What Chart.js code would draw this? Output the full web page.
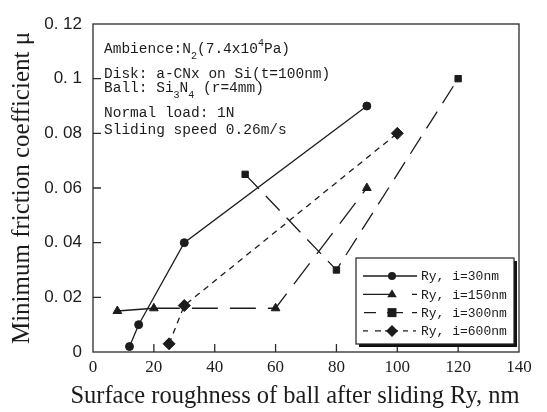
<!DOCTYPE html>
<html>
<head>
<meta charset="utf-8">
<script src="https://cdn.jsdelivr.net/npm/chart.js@4.4.0/dist/chart.umd.min.js"></script>
<style>
    html, body { margin: 0; padding: 0; background: #fff; }
    #wrap { width: 547px; height: 412px; }
</style>
</head>
<body>
<div id="wrap"><canvas id="frictionChart" width="547" height="412"></canvas></div>
<script>
// values
const seriesLabels = ['Ry, i=30nm', 'Ry, i=150nm', 'Ry, i=300nm', 'Ry, i=600nm'];
const ry30X = [12, 15, 30, 90];
const ry30Y = [0.002, 0.010, 0.040, 0.090];
const ry150X = [8, 20, 60, 90];
const ry150Y = [0.015, 0.016, 0.016, 0.060];
const ry300X = [50, 80, 120];
const ry300Y = [0.065, 0.030, 0.100];
const ry600X = [25, 30, 100];
const ry600Y = [0.003, 0.017, 0.080];

const xTicks = [0, 20, 40, 60, 80, 100, 120, 140];
const yTicks = [0, 0.02, 0.04, 0.06, 0.08, 0.1, 0.12];
const yTickLabels = ['0', '0. 02', '0. 04', '0. 06', '0. 08', '0. 1', '0. 12'];

const xTitle = 'Surface roughness of ball after sliding Ry, nm';
const yTitle = 'Minimum friction coefficient \u03bc';

const INK = '#1c1c1c';
const MONO = '"Liberation Mono", "DejaVu Sans Mono", monospace';
const SERIF = '"Liberation Serif", "DejaVu Serif", serif';

function toPoints(xs, ys) {
    return xs.map((x, i) => ({ x: x, y: ys[i] }));
}

// condition block in the upper left, with sub/superscripts
const noteLines = [
    [{ t: 'Ambience:N' }, { t: '2', sub: true }, { t: '(7.4x10' }, { t: '4', sup: true }, { t: 'Pa)' }],
    [{ t: 'Disk: a-CNx on Si(t=100nm)' }],
    [{ t: 'Ball: Si' }, { t: '3', sub: true }, { t: 'N' }, { t: '4', sub: true }, { t: ' (r=4mm)' }],
    [{ t: 'Normal load: 1N' }],
    [{ t: 'Sliding speed 0.26m/s' }]
];
const noteRowY = [49, 74, 88, 113, 130];

// legend sample pieces (relative to sample start)
const legendSegs = [
    [[0, 54]],
    [[0, 29], [49, 54]],
    [[1, 13], [24, 40], [49, 54]],
    [[0, 5], [12, 18], [22, 35], [40, 45], [50, 53]]
];

function drawMarker(ctx, style, r, x, y) {
    ctx.beginPath();
    if (style === 'circle') {
        ctx.arc(x, y, r, 0, Math.PI * 2);
    } else if (style === 'triangle') {
        ctx.moveTo(x, y - r);
        ctx.lineTo(x + r * 0.95, y + r * 0.6);
        ctx.lineTo(x - r * 0.95, y + r * 0.6);
        ctx.closePath();
    } else if (style === 'rect') {
        ctx.rect(x - r, y - r, r * 2, r * 2);
    } else {
        ctx.moveTo(x, y - r);
        ctx.lineTo(x + r, y);
        ctx.lineTo(x, y + r);
        ctx.lineTo(x - r, y);
        ctx.closePath();
    }
    ctx.fill();
}

const decorPlugin = {
    id: 'decor',
    afterDraw(chart) {
        const ctx = chart.ctx;
        const area = chart.chartArea;
        const xs = chart.scales.x;
        const ys = chart.scales.y;
        ctx.save();

        // frame
        ctx.strokeStyle = '#2a2a2a';
        ctx.lineWidth = 1.3;
        ctx.strokeRect(area.left, area.top, area.right - area.left, area.bottom - area.top);

        // inward tick marks
        ctx.beginPath();
        xTicks.slice(1, -1).forEach(v => {
            const px = xs.getPixelForValue(v);
            ctx.moveTo(px, area.bottom);
            ctx.lineTo(px, area.bottom - 8);
        });
        yTicks.slice(1, -1).forEach(v => {
            const py = ys.getPixelForValue(v);
            ctx.moveTo(area.left, py);
            ctx.lineTo(area.left + 8, py);
        });
        ctx.stroke();

        // conditions text
        ctx.fillStyle = INK;
        ctx.textBaseline = 'middle';
        ctx.textAlign = 'left';
        noteLines.forEach((runs, i) => {
            let x = area.left + 11;
            const y = noteRowY[i];
            runs.forEach(run => {
                if (run.sub || run.sup) {
                    ctx.font = '10px ' + MONO;
                    ctx.fillText(run.t, x, y + (run.sub ? 7 : -6));
                    x += ctx.measureText(run.t).width;
                } else {
                    ctx.font = '14.5px ' + MONO;
                    ctx.fillText(run.t, x, y);
                    x += ctx.measureText(run.t).width;
                }
            });
        });

        // legend box with drop shadow
        const lx = 356, ly = 258, lw = 158, lh = 86;
        ctx.fillStyle = '#111';
        ctx.fillRect(lx + 3, ly + 3, lw, lh);
        ctx.fillStyle = '#fff';
        ctx.fillRect(lx, ly, lw, lh);
        ctx.strokeStyle = '#222';
        ctx.lineWidth = 1.2;
        ctx.strokeRect(lx, ly, lw, lh);

        chart.data.datasets.forEach((ds, i) => {
            const rowY = ly + 18 + i * 18.3;
            const sx = lx + 7;
            ctx.strokeStyle = INK;
            ctx.lineWidth = 1.3;
            ctx.beginPath();
            legendSegs[i].forEach(seg => {
                ctx.moveTo(sx + seg[0], rowY);
                ctx.lineTo(sx + seg[1], rowY);
            });
            ctx.stroke();
            ctx.fillStyle = INK;
            drawMarker(ctx, ds.pointStyle, ds.pointRadius, sx + 29, rowY);
            ctx.font = '13px ' + MONO;
            ctx.fillText(ds.label, sx + 58, rowY + 1);
        });

        // x axis title
        ctx.font = '24.5px ' + SERIF;
        ctx.textAlign = 'center';
        ctx.fillStyle = INK;
        ctx.fillText(xTitle, 295, 397);

        ctx.restore();
    }
};

const commonLine = {
    borderColor: INK,
    backgroundColor: INK,
    pointBackgroundColor: INK,
    pointBorderColor: INK,
    borderWidth: 1.3,
    pointBorderWidth: 1,
    fill: false,
    tension: 0
};

new Chart(document.getElementById('frictionChart').getContext('2d'), {
    type: 'line',
    data: {
        datasets: [
            Object.assign({}, commonLine, {
                label: seriesLabels[0],
                data: toPoints(ry30X, ry30Y),
                pointStyle: 'circle',
                pointRadius: 4
            }),
            Object.assign({}, commonLine, {
                label: seriesLabels[1],
                data: toPoints(ry150X, ry150Y),
                pointStyle: 'triangle',
                pointRadius: 5,
                segment: {
                    borderDash: c => c.p0DataIndex === 0 ? [] : [26, 12]
                }
            }),
            Object.assign({}, commonLine, {
                label: seriesLabels[2],
                data: toPoints(ry300X, ry300Y),
                pointStyle: 'rect',
                pointRadius: 4.5,
                borderDash: [20, 10]
            }),
            Object.assign({}, commonLine, {
                label: seriesLabels[3],
                data: toPoints(ry600X, ry600Y),
                pointStyle: 'rectRot',
                pointRadius: 6,
                borderDash: [6, 5]
            })
        ]
    },
    options: {
        responsive: false,
        animation: false,
        layout: {
            padding: { top: 24, right: 28, bottom: 0, left: 0 }
        },
        plugins: {
            legend: { display: false },
            tooltip: { enabled: false }
        },
        scales: {
            x: {
                type: 'linear',
                min: 0,
                max: 140,
                afterBuildTicks: scale => { scale.ticks = xTicks.map(v => ({ value: v })); },
                afterFit: scale => { scale.height = 60; },
                grid: { display: false, drawTicks: false },
                border: { display: false },
                ticks: {
                    padding: 5,
                    color: INK,
                    font: { family: SERIF, size: 17 }
                }
            },
            y: {
                type: 'linear',
                min: 0,
                max: 0.12,
                afterBuildTicks: scale => { scale.ticks = yTicks.map(v => ({ value: v })); },
                afterFit: scale => { scale.width = 93; },
                grid: { display: false, drawTicks: false },
                border: { display: false },
                ticks: {
                    padding: 11,
                    color: INK,
                    font: { family: '"Liberation Sans", Arial, sans-serif', size: 17 },
                    callback: (value, index) => yTickLabels[index]
                },
                title: {
                    display: true,
                    text: yTitle,
                    color: INK,
                    padding: { top: 7, bottom: 0 },
                    font: { family: SERIF, size: 25, weight: 'normal' }
                }
            }
        }
    },
    plugins: [decorPlugin]
});
</script>
</body>
</html>
